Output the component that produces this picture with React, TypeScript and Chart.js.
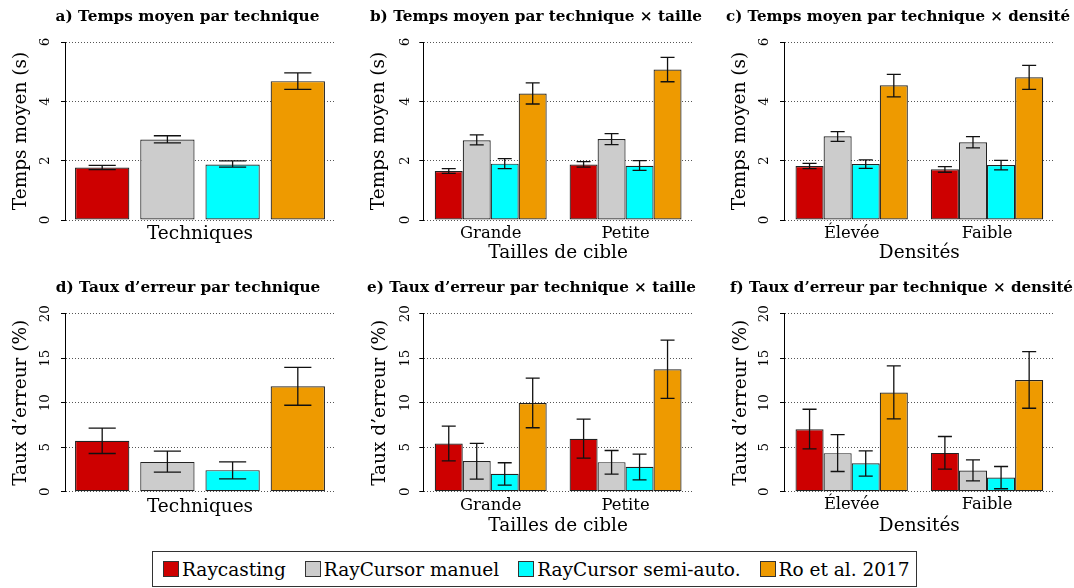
import React, { useEffect, useRef } from 'react';
import { Chart, registerables } from 'chart.js';

Chart.register(...registerables);

const FONT = "'DejaVu Serif', serif";

// ---------- data ----------
const techniques = ['Raycasting', 'RayCursor manuel', 'RayCursor semi-auto.', 'Ro et al. 2017'];
const techColors = ['#CD0000', '#CCCCCC', '#00FFFF', '#EE9A00'];
const sizes = ['Grande', 'Petite'];
const densities = ['Élevée', 'Faible'];
const timeTicks = [0, 2, 4, 6];
const errorTicks = [0, 5, 10, 15, 20];

// a) time per technique
const timeMean = [1.77, 2.71, 1.87, 4.68];
const timeLow = [1.70, 2.60, 1.78, 4.40];
const timeHigh = [1.84, 2.84, 1.99, 4.96];

// b) time per technique x size (rows: technique, cols: Grande, Petite)
const timeSizeMean = [[1.65, 1.87], [2.69, 2.73], [1.90, 1.83], [4.26, 5.07]];
const timeSizeLow = [[1.57, 1.78], [2.53, 2.54], [1.73, 1.67], [3.91, 4.66]];
const timeSizeHigh = [[1.73, 1.97], [2.87, 2.91], [2.07, 2.00], [4.62, 5.48]];

// c) time per technique x density (cols: Élevée, Faible)
const timeDensMean = [[1.82, 1.71], [2.82, 2.62], [1.89, 1.85], [4.54, 4.81]];
const timeDensLow = [[1.73, 1.61], [2.65, 2.43], [1.74, 1.69], [4.15, 4.40]];
const timeDensHigh = [[1.91, 1.80], [2.98, 2.81], [2.03, 2.01], [4.91, 5.21]];

// d) error rate per technique
const errMean = [5.72, 3.36, 2.43, 11.85];
const errLow = [4.30, 2.21, 1.46, 9.72];
const errHigh = [7.14, 4.56, 3.36, 13.98];

// e) error rate per technique x size
const errSizeMean = [[5.43, 5.96], [3.45, 3.33], [2.02, 2.81], [9.96, 13.75]];
const errSizeLow = [[3.48, 3.78], [1.42, 1.99], [0.75, 1.35], [7.19, 10.49]];
const errSizeHigh = [[7.38, 8.16], [5.43, 4.64], [3.26, 4.23], [12.77, 17.04]];

// f) error rate per technique x density
const errDensMean = [[7.03, 4.37], [4.34, 2.39], [3.21, 1.61], [11.14, 12.56]];
const errDensLow = [[4.82, 2.54], [2.28, 1.23], [1.76, 0.34], [8.19, 9.38]];
const errDensHigh = [[9.27, 6.21], [6.43, 3.59], [4.60, 2.84], [14.13, 15.74]];

// ---------- layout ----------
type Panel = {
  title: string; yTitle: string; xTitle: string; labels: string[];
  mean: number[][]; low: number[][]; high: number[][]; ticks: number[]; single: boolean;
  L: number; T: number; W: number; H: number;
  top: number; bottom: number; left: number; right: number;
  titleMid: number; yTitleMid: number; tickMid: number; xTitleMid: number; catPad: number;
};

const wrap = (a: number[]) => a.map((v) => [v]);

const panels: Panel[] = [
  {
    title: 'a) Temps moyen par technique', yTitle: 'Temps moyen (s)', xTitle: 'Techniques', labels: [''],
    mean: wrap(timeMean), low: wrap(timeLow), high: wrap(timeHigh), ticks: timeTicks, single: true,
    L: 10, T: 0, W: 355, H: 270, top: 42, bottom: 220, left: 65, right: 335,
    titleMid: 17.5, yTitleMid: 21.5, tickMid: 45.8, xTitleMid: 234.3, catPad: 3.5,
  },
  {
    title: 'b) Temps moyen par technique × taille', yTitle: 'Temps moyen (s)', xTitle: 'Tailles de cible', labels: sizes,
    mean: timeSizeMean, low: timeSizeLow, high: timeSizeHigh, ticks: timeTicks, single: false,
    L: 368, T: 0, W: 336, H: 270, top: 42, bottom: 220, left: 423.3, right: 693,
    titleMid: 17.5, yTitleMid: 379.6, tickMid: 405, xTitleMid: 253.6, catPad: 3.5,
  },
  {
    title: 'c) Temps moyen par technique × densité', yTitle: 'Temps moyen (s)', xTitle: 'Densités', labels: densities,
    mean: timeDensMean, low: timeDensLow, high: timeDensHigh, ticks: timeTicks, single: false,
    L: 726, T: 0, W: 344, H: 270, top: 42, bottom: 220, left: 784, right: 1054.7,
    titleMid: 17.5, yTitleMid: 740.3, tickMid: 764.2, xTitleMid: 253.6, catPad: 3.5,
  },
  {
    title: 'd) Taux d’erreur par technique', yTitle: 'Taux d’erreur (%)', xTitle: 'Techniques', labels: [''],
    mean: wrap(errMean), low: wrap(errLow), high: wrap(errHigh), ticks: errorTicks, single: true,
    L: 10, T: 272, W: 356, H: 270, top: 313.7, bottom: 491.8, left: 65, right: 335,
    titleMid: 288, yTitleMid: 21.3, tickMid: 45.5, xTitleMid: 506.9, catPad: 3.8,
  },
  {
    title: 'e) Taux d’erreur par technique × taille', yTitle: 'Taux d’erreur (%)', xTitle: 'Tailles de cible', labels: sizes,
    mean: errSizeMean, low: errSizeLow, high: errSizeHigh, ticks: errorTicks, single: false,
    L: 367, T: 272, W: 329, H: 270, top: 313.7, bottom: 491.8, left: 423.3, right: 693,
    titleMid: 288, yTitleMid: 380.3, tickMid: 405.2, xTitleMid: 526, catPad: 3.8,
  },
  {
    title: 'f) Taux d’erreur par technique × densité', yTitle: 'Taux d’erreur (%)', xTitle: 'Densités', labels: densities,
    mean: errDensMean, low: errDensLow, high: errDensHigh, ticks: errorTicks, single: false,
    L: 730, T: 272, W: 343, H: 270, top: 313.7, bottom: 491.8, left: 784, right: 1054.7,
    titleMid: 288, yTitleMid: 740.9, tickMid: 764, xTitleMid: 526, catPad: 3.2,
  },
];

const TITLE_SIZE = 15.3;
const AXIS_TITLE_SIZE = 18.5;
const TICK_SIZE = 13.5;
const CAT_SIZE = 16.4;

const errorBarPlugin = {
  id: 'errorBars',
  afterDatasetsDraw(chart: any) {
    const ctx = chart.ctx;
    const y = chart.scales.y;
    chart.data.datasets.forEach((ds: any, i: number) => {
      const meta = chart.getDatasetMeta(i);
      meta.data.forEach((bar: any, j: number) => {
        const lo = y.getPixelForValue(ds.errLow[j]);
        const hi = y.getPixelForValue(ds.errHigh[j]);
        const half = bar.width / 4;
        ctx.save();
        ctx.strokeStyle = '#111';
        ctx.lineWidth = 1.3;
        ctx.beginPath();
        ctx.moveTo(bar.x, lo);
        ctx.lineTo(bar.x, hi);
        ctx.moveTo(bar.x - half, lo);
        ctx.lineTo(bar.x + half, lo);
        ctx.moveTo(bar.x - half, hi);
        ctx.lineTo(bar.x + half, hi);
        ctx.stroke();
        ctx.restore();
      });
    });
  },
};

// y tick labels drawn rotated (reading bottom to top), as in the original figure
const rotatedTicksPlugin = {
  id: 'rotatedTicks',
  afterDraw(chart: any, _args: any, opts: any) {
    const ctx = chart.ctx;
    const y = chart.scales.y;
    ctx.save();
    ctx.fillStyle = '#000';
    ctx.font = `${TICK_SIZE}px ${FONT}`;
    ctx.textAlign = 'center';
    ctx.textBaseline = 'middle';
    y.ticks.forEach((t: any) => {
      const py = y.getPixelForValue(t.value);
      ctx.save();
      ctx.translate(opts.x, py);
      ctx.rotate(-Math.PI / 2);
      ctx.fillText(String(t.value), 0, 0);
      ctx.restore();
    });
    ctx.restore();
  },
};

function makeConfig(p: Panel): any {
  const titleLH = TITLE_SIZE * 1.2;
  const titlePadTop = p.titleMid - p.T - titleLH / 2;
  const titlePadBottom = p.top - p.T - titleLH - titlePadTop;
  const axisLH = AXIS_TITLE_SIZE * 1.2;
  const yWidth = p.left - p.L;
  const rWidth = p.L + p.W - p.right;
  const xHeight = p.T + p.H - p.bottom;
  const yTitlePad = p.yTitleMid - p.L - axisLH / 2;
  const xTitlePad = p.T + p.H - axisLH / 2 - p.xTitleMid;
  const tMin = p.ticks[0];
  const tMax = p.ticks[p.ticks.length - 1];
  const step = p.ticks[1] - p.ticks[0];

  return {
    type: 'bar',
    data: {
      labels: p.labels,
      datasets: techniques.map((name, i) => ({
        label: name,
        data: p.mean[i],
        errLow: p.low[i],
        errHigh: p.high[i],
        backgroundColor: techColors[i],
        borderColor: '#222',
        borderWidth: 1.2,
        borderSkipped: false,
        yAxisID: 'y',
        categoryPercentage: p.single ? 0.966 : 0.83,
        barPercentage: p.single ? 0.833 : 1.0,
      })),
    },
    options: {
      responsive: false,
      animation: false,
      devicePixelRatio: 1,
      layout: { padding: 0 },
      plugins: {
        legend: { display: false },
        tooltip: { enabled: false },
        rotatedTicks: { x: p.tickMid - p.L },
        title: {
          display: true,
          text: p.title,
          color: '#000',
          font: { family: FONT, size: TITLE_SIZE, weight: 'bold', lineHeight: 1.2 },
          padding: { top: titlePadTop, bottom: titlePadBottom },
        },
      },
      scales: {
        x: {
          type: 'category',
          grid: { display: false, drawTicks: false, tickLength: 0 },
          border: { display: false },
          ticks: {
            display: !p.single,
            color: '#000',
            font: { family: FONT, size: CAT_SIZE, lineHeight: 1.2 },
            padding: p.catPad,
            maxRotation: 0,
            minRotation: 0,
            autoSkip: false,
          },
          title: {
            display: true,
            text: p.xTitle,
            color: '#000',
            font: { family: FONT, size: AXIS_TITLE_SIZE, lineHeight: 1.2 },
            padding: { top: 0, bottom: xTitlePad },
          },
          afterFit: (s: any) => { s.height = xHeight; },
        },
        y: {
          type: 'linear',
          position: 'left',
          min: tMin,
          max: tMax,
          ticks: {
            stepSize: step,
            display: false,
          },
          grid: {
            color: '#555',
            lineWidth: 1,
            drawTicks: true,
            tickLength: 4,
            tickColor: '#000',
            tickWidth: 1,
          },
          border: { display: true, color: '#000', width: 1, dash: [1, 2] },
          title: {
            display: true,
            text: p.yTitle,
            color: '#000',
            font: { family: FONT, size: AXIS_TITLE_SIZE, lineHeight: 1.2 },
            padding: { top: yTitlePad, bottom: 0 },
          },
          afterFit: (s: any) => { s.width = yWidth; },
        },
        yR: {
          type: 'linear',
          position: 'right',
          display: true,
          grid: { display: false, drawTicks: false },
          border: { display: false },
          ticks: { display: false },
          afterFit: (s: any) => { s.width = rWidth; },
        },
      },
    },
    plugins: [errorBarPlugin, rotatedTicksPlugin],
  };
}

function PanelChart({ p }: { p: Panel }) {
  const ref = useRef<HTMLCanvasElement>(null);
  useEffect(() => {
    if (!ref.current) return;
    const chart = new Chart(ref.current, makeConfig(p));
    return () => chart.destroy();
  }, [p]);
  return (
    <canvas
      ref={ref}
      width={p.W}
      height={p.H}
      style={{ position: 'absolute', left: p.L, top: p.T, width: p.W, height: p.H }}
    />
  );
}

function Legend() {
  return (
    <div
      style={{
        position: 'absolute', left: 152, top: 551, width: 765, height: 36,
        boxSizing: 'border-box', border: '1px solid #333', display: 'flex', alignItems: 'center',
        paddingLeft: 10, fontFamily: FONT, fontSize: 18.5, color: '#000', whiteSpace: 'nowrap',
      }}
    >
      {techniques.map((name, i) => (
        <div key={name} style={{ display: 'flex', alignItems: 'center', marginRight: 19 }}>
          <span
            style={{
              display: 'inline-block', width: 16, height: 16, boxSizing: 'border-box',
              background: techColors[i], border: '1px solid #333', marginRight: 3,
            }}
          />
          <span>{name}</span>
        </div>
      ))}
    </div>
  );
}

export default function App() {
  return (
    <div style={{ position: 'absolute', left: 0, top: 0, width: 1074, height: 588, background: '#fff', overflow: 'hidden' }}>
      {panels.map((p, i) => (
        <PanelChart key={i} p={p} />
      ))}
      <Legend />
    </div>
  );
}
